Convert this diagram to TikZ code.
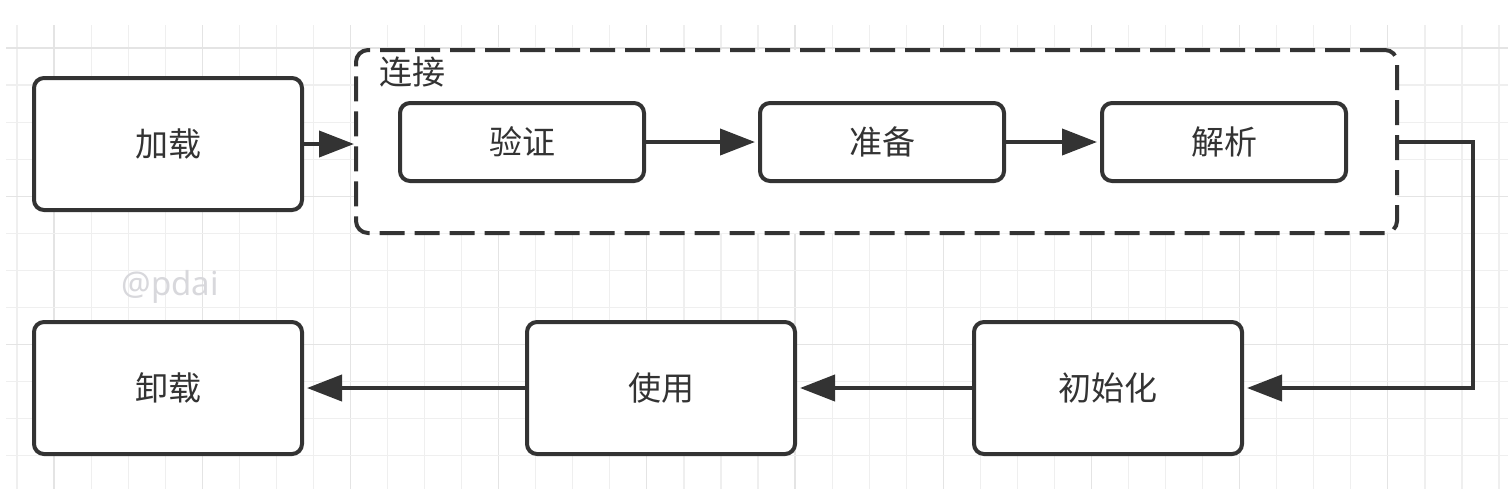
\documentclass[tikz,border=0pt]{standalone}
\usepackage{fontspec}
\setmainfont{Noto Sans}
\newfontfamily\cjk{Noto Sans CJK SC}
\usetikzlibrary{arrows.meta}
\definecolor{ink}{HTML}{333333}
\definecolor{gridminor}{HTML}{EFEFEF}
\definecolor{gridmajor}{HTML}{E4E4E4}
\definecolor{wm}{HTML}{D8D8DC}
\begin{document}
\begin{tikzpicture}[x=0.5pt,y=-0.5pt,
  box/.style={draw=ink,line width=2pt,fill=white,rounded corners=5pt,inner sep=0pt,
    font=\cjk\fontsize{16.5}{20}\selectfont,text=ink},
  bigbox/.style={box,minimum width=134pt,minimum height=66pt},
  smallbox/.style={box,minimum width=122pt,minimum height=39pt},
  groupbox/.style={draw=ink,line width=2pt,fill=white,dash pattern=on 12.5pt off 5pt,
    rounded corners=6pt,minimum width=520.5pt,minimum height=91.5pt,inner sep=0pt},
  flow/.style={draw=ink,line width=2pt,-{Triangle[length=17.5pt,width=13pt]}},
  gap/.style={shorten >=1.5pt},
]
\useasboundingbox (0,0) rectangle (1508,489);
\fill[white] (0,0) rectangle (1508,489);
% grid
\begin{scope}
\clip (6,25) rectangle (1508,489);
\foreach \k in {0,...,40}{
  \pgfmathsetmacro{\gx}{17+37.05*\k}
  \pgfmathtruncatemacro{\gm}{mod(\k,4)}
  \ifnum\gm=1 \draw[gridmajor,line width=0.6pt] (\gx,25) -- (\gx,489);
  \else \draw[gridminor,line width=0.6pt] (\gx,25) -- (\gx,489); \fi
}
\foreach \k in {0,...,11}{
  \pgfmathsetmacro{\gy}{48+37.05*\k}
  \pgfmathtruncatemacro{\gm}{mod(\k,4)}
  \ifnum\gm=0 \draw[gridmajor,line width=0.6pt] (6,\gy) -- (1508,\gy);
  \else \draw[gridminor,line width=0.6pt] (6,\gy) -- (1508,\gy); \fi
}
\end{scope}
% watermark
\node[anchor=base west,inner sep=0pt,text=wm,font=\fontsize{16.5}{20}\selectfont] (wmark) at (121,295) {@pdai};
% container
\node[groupbox] (cont) at (876.5,141.5) {};
\node[anchor=west,inner sep=0pt,text=ink,font=\cjk\fontsize{16.5}{20}\selectfont] (lbl) at (379,72) {连接};
% boxes
\node[bigbox] (jia) at (168,144) {加载};
\node[smallbox] (yan) at (522,142) {验证};
\node[smallbox] (zhun) at (882,142) {准备};
\node[smallbox] (jie) at (1224,142) {解析};
\node[bigbox] (xie) at (168,388) {卸载};
\node[bigbox] (shi) at (661,388) {使用};
\node[bigbox] (chu) at (1108,388) {初始化};
\coordinate (turn) at (1473,0);
% connectors
\draw[flow] (jia.east) -- (jia.east -| cont.west);
\draw[flow,gap] (yan) -- (zhun);
\draw[flow,gap] (zhun) -- (jie);
\draw[flow,gap] (cont.east) -- (cont.east -| turn) |- (chu.east);
\draw[flow,gap] (chu) -- (shi);
\draw[flow,gap] (shi) -- (xie);
\end{tikzpicture}
\end{document}
